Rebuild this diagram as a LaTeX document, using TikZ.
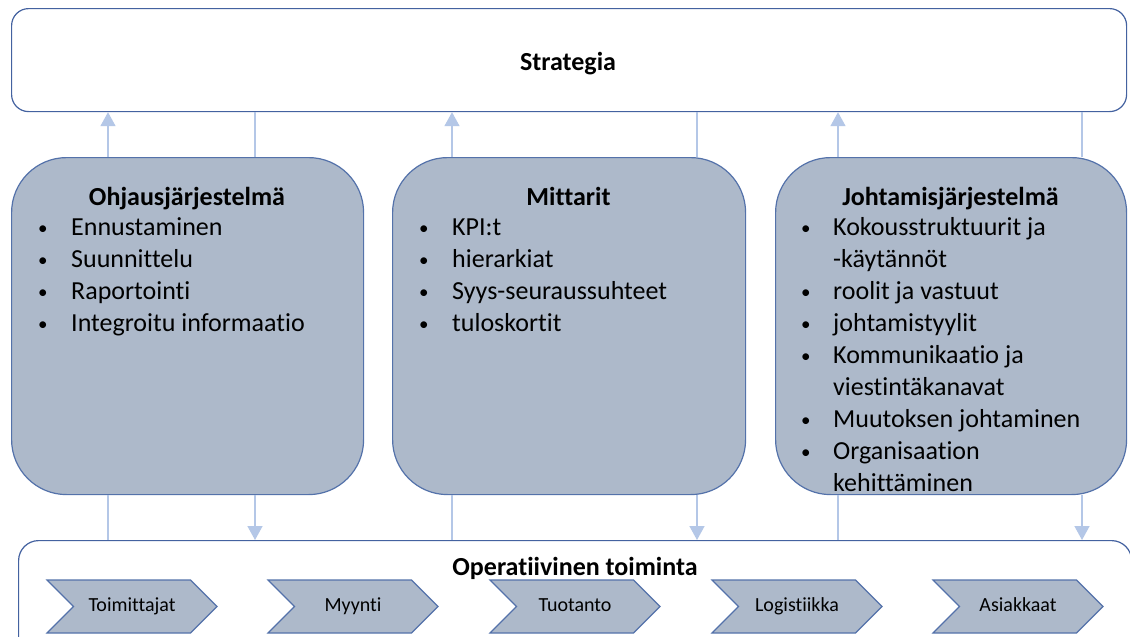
\documentclass[tikz,border=0pt]{standalone}
\usepackage{fontspec}
\setmainfont{Carlito}[RawFeature=-liga]
\usetikzlibrary{arrows.meta,shapes.symbols}
\definecolor{boxfill}{RGB}{173,185,202}
\definecolor{boxline}{RGB}{84,114,170}
\definecolor{connc}{RGB}{180,199,231}
\definecolor{stratline}{RGB}{68,98,160}
\newcommand\mybul{\raisebox{1.5pt}{\fontsize{19}{19}\selectfont•}}
\begin{document}
\begin{tikzpicture}[x=1pt,y=-1pt,
  bigfont/.style={font=\fontsize{26}{32}\selectfont},
  titlefont/.style={font=\fontsize{26}{32}\selectfont\bfseries},
  whitebox/.style={draw=stratline,line width=1.2pt,fill=white,anchor=north west,inner sep=0pt},
  grebox/.style={draw=boxline,line width=1.2pt,fill=boxfill,rounded corners=55pt,anchor=north west,inner sep=0pt,minimum height=337pt},
  chev/.style={signal,signal from=west,signal to=east,signal pointer angle=90,draw=boxline,line width=1.1pt,fill=boxfill,minimum width=170pt,minimum height=53pt,inner sep=0pt,text height=13pt,text depth=4pt,font=\fontsize{20}{24}\selectfont},
  cline/.style={draw=connc,line width=1.5pt},
  carrow/.style={cline,-{Triangle[width=15pt,length=14pt]},color=connc},
  lst/.style={bigfont,anchor=base west,inner sep=0pt}
]
\useasboundingbox (0,0) rectangle (1130,637);
\clip (0,0) rectangle (1130,637);
\fill[white] (0,0) rectangle (1130,637);

% Strategy
\node[whitebox,rounded corners=17pt,minimum width=1115pt,minimum height=103pt] (strat) at (11,8) {};
\node[titlefont,anchor=base] (stratt) at (568,70.5) {Strategia};

% Operative box
\node[whitebox,rounded corners=20pt,minimum width=1113pt,minimum height=130pt] (oper) at (18,540) {};
\node[titlefont,anchor=base] (opert) at (575,575) {Operatiivinen toiminta};

% three boxes
\node[grebox,minimum width=352pt] (b1) at (11,157) {};
\node[grebox,minimum width=353pt] (b2) at (392,157) {};
\node[grebox,minimum width=351pt] (b3) at (775,157) {};

\node[titlefont,anchor=base] (b1t) at (187,205.5) {Ohjausjärjestelmä};
\node[titlefont,anchor=base] (b2t) at (568.5,205.5) {Mittarit};
\node[titlefont,anchor=base] (b3t) at (950.5,205.5) {Johtamisjärjestelmä};

\node[lst] (b1l) at (38,235.5) {\begin{tabular}[t]{@{}p{33pt}@{}l@{}}
\mybul& Ennustaminen\\
\mybul& Suunnittelu\\
\mybul& Raportointi\\
\mybul& Integroitu informaatio
\end{tabular}};
\node[lst] (b2l) at (419,235.5) {\begin{tabular}[t]{@{}p{33pt}@{}l@{}}
\mybul& KPI:t\\
\mybul& hierarkiat\\
\mybul& Syys-seuraussuhteet\\
\mybul& tuloskortit
\end{tabular}};
\node[lst] (b3l) at (801,235.5) {\begin{tabular}[t]{@{}p{32pt}@{}l@{}}
\mybul& Kokousstruktuurit ja\\
 & -käytännöt\\
\mybul& roolit ja vastuut\\
\mybul& johtamistyylit\\
\mybul& Kommunikaatio ja\\
 & viestintäkanavat\\
\mybul& Muutoksen johtaminen\\
\mybul& Organisaation\\
 & kehittäminen
\end{tabular}};

% chevrons
\node[chev] (c1) at (132,606.5) {Toimittajat};
\node[chev] (c2) at (353,606.5) {Myynti};
\node[chev] (c3) at (575,606.5) {Tuotanto};
\node[chev] (c4) at (797,606.5) {Logistiikka};
\node[chev] (c5) at (1018,606.5) {Asiakkaat};

% connector x positions
\coordinate (xa) at (108,0);
\coordinate (xb) at (255,0);
\coordinate (xc) at (452,0);
\coordinate (xd) at (697,0);
\coordinate (xe) at (838,0);
\coordinate (xf) at (1082,0);

% upper connectors
\draw[carrow] (xa |- b1.north) -- (xa |- strat.south);
\draw[cline] (xb |- b1.north) -- (xb |- strat.south);
\draw[carrow] (xc |- b2.north) -- (xc |- strat.south);
\draw[cline] (xd |- b2.north) -- (xd |- strat.south);
\draw[carrow] (xe |- b3.north) -- (xe |- strat.south);
\draw[cline] (xf |- b3.north) -- (xf |- strat.south);

% lower connectors
\draw[cline] (xa |- b1.south) -- (xa |- oper.north);
\draw[carrow] (xb |- b1.south) -- (xb |- oper.north);
\draw[cline] (xc |- b2.south) -- (xc |- oper.north);
\draw[carrow] (xd |- b2.south) -- (xd |- oper.north);
\draw[cline] (xe |- b3.south) -- (xe |- oper.north);
\draw[carrow] (xf |- b3.south) -- (xf |- oper.north);
\end{tikzpicture}
\end{document}
